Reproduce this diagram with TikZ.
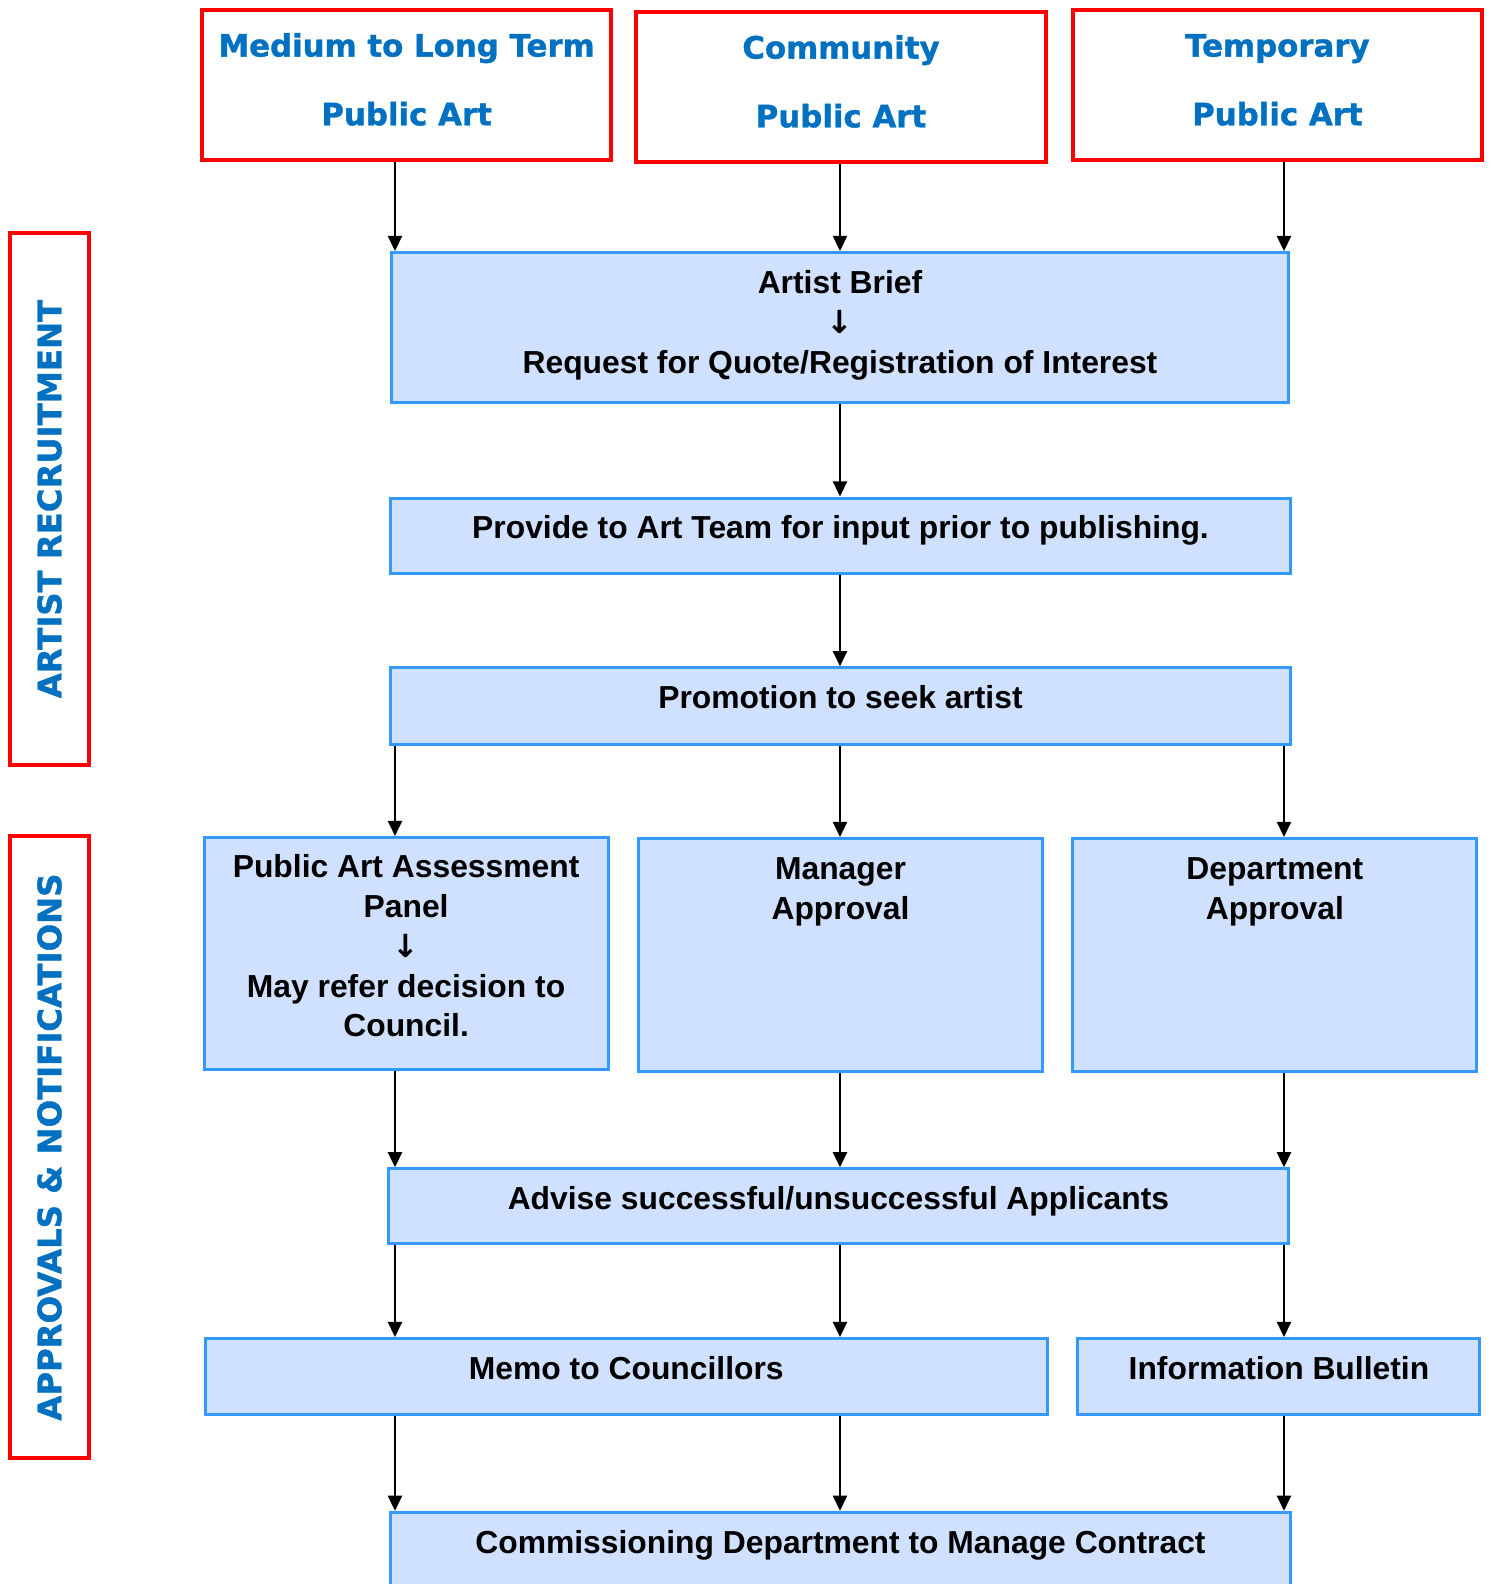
\documentclass[tikz,border=0pt]{standalone}
\usepackage{fontspec}
\setmainfont{Liberation Sans}
\newfontfamily\headfont{DejaVu Sans Bold}[FakeBold=1.2]
\newfontfamily\arrowfont{DejaVu Sans}
\usetikzlibrary{arrows.meta}

\definecolor{headred}{HTML}{FF0000}
\definecolor{headblue}{HTML}{0070C0}
\definecolor{boxblue}{HTML}{3399FF}
\definecolor{boxfill}{HTML}{D0E0FF}

\newcommand{\downarr}{{\arrowfont ↓}}

\tikzset{
  headbox/.style={draw=headred, line width=4pt, minimum width=405pt, inner sep=0pt,
    text height=114pt, text depth=34pt, align=center, text=headblue,
    font=\headfont\fontsize{30.5}{68}\selectfont},
  sidebox/.style={draw=headred, line width=4pt, minimum height=78pt, inner sep=0pt, rotate=90,
    text=headblue, font=\headfont\fontsize{32}{38}\selectfont},
  bluebox/.style={draw=boxblue, fill=boxfill, line width=3pt, inner sep=0pt, text height=40.5pt,
    align=center, font=\bfseries\fontsize{31.5}{39.5}\selectfont},
  arr/.style={-{Triangle[length=15pt,width=14pt]}, line width=2pt},
}

\begin{document}
\begin{tikzpicture}[x=1pt,y=-1pt]
\useasboundingbox (0,0) rectangle (1475,1568);

% kinds of public art
\node[headbox] (mlt) at (402.5,84) {Medium to Long Term\\Public Art};
\node[headbox] (com) at (832.5,86) {Community\\Public Art};
\node[headbox] (tmp) at (1264.5,84) {Temporary\\Public Art};

% stages
\node[sidebox, minimum width=526pt] (recruit) at (49,494) {ARTIST RECRUITMENT};
\node[sidebox, minimum width=615pt] (approve) at (49,1135.5) {APPROVALS \& NOTIFICATIONS};

% process
\node[bluebox, minimum width=887pt, text height=119.5pt, text depth=28.5pt] (brief) at (831.5,324)
  {Artist Brief\\\downarr\\Request for Quote/Registration of Interest};
\node[bluebox, minimum width=890pt, text depth=34.5pt] (provide) at (832,530.5)
  {Provide to Art Team for input prior to publishing.};
\node[bluebox, minimum width=890pt, text depth=35.5pt] (promo) at (832,699) {Promotion to seek artist};
\node[bluebox, minimum width=400pt, text height=197.5pt, text depth=32.5pt] (panel) at (402,944)
  {Public Art Assessment\\Panel\\\downarr\\May refer decision to\\Council.};
\node[bluebox, minimum width=400pt, text height=80pt, text depth=151pt] (mgr) at (832,945.5)
  {Manager\\Approval};
\node[bluebox, minimum width=400pt, text height=80pt, text depth=151pt] (dept) at (1262,945.5)
  {Department\\Approval};
\node[bluebox, minimum width=890pt, text depth=33.5pt] (advise) at (830,1194)
  {Advise successful/unsuccessful Applicants};
\node[bluebox, minimum width=834pt, text depth=34.5pt] (memo) at (620,1362.5) {Memo to Councillors};
\node[bluebox, minimum width=398pt, text depth=34.5pt] (info) at (1266,1362.5) {Information Bulletin};
\node[bluebox, minimum width=890pt, text depth=34.5pt] (comm) at (832,1534.5)
  {Commissioning Department to Manage Contract};

% arrow columns
\coordinate (colL) at (391,0);
\coordinate (colM) at (831.5,0);
\coordinate (colR) at (1271,0);

\foreach \c/\up in {colL/mlt, colM/com, colR/tmp}
  \draw[arr] (\up.south -| \c) -- (brief.north -| \c);
\draw[arr] (brief.south -| colM) -- (provide.north -| colM);
\draw[arr] (provide.south -| colM) -- (promo.north -| colM);
\foreach \c/\lo in {colL/panel, colM/mgr, colR/dept}
  \draw[arr] (promo.south -| \c) -- (\lo.north -| \c);
\foreach \c/\up in {colL/panel, colM/mgr, colR/dept}
  \draw[arr] (\up.south -| \c) -- (advise.north -| \c);
\foreach \c/\lo in {colL/memo, colM/memo, colR/info}
  \draw[arr] (advise.south -| \c) -- (\lo.north -| \c);
\foreach \c/\up in {colL/memo, colM/memo, colR/info}
  \draw[arr] (\up.south -| \c) -- (comm.north -| \c);
\end{tikzpicture}
\end{document}
